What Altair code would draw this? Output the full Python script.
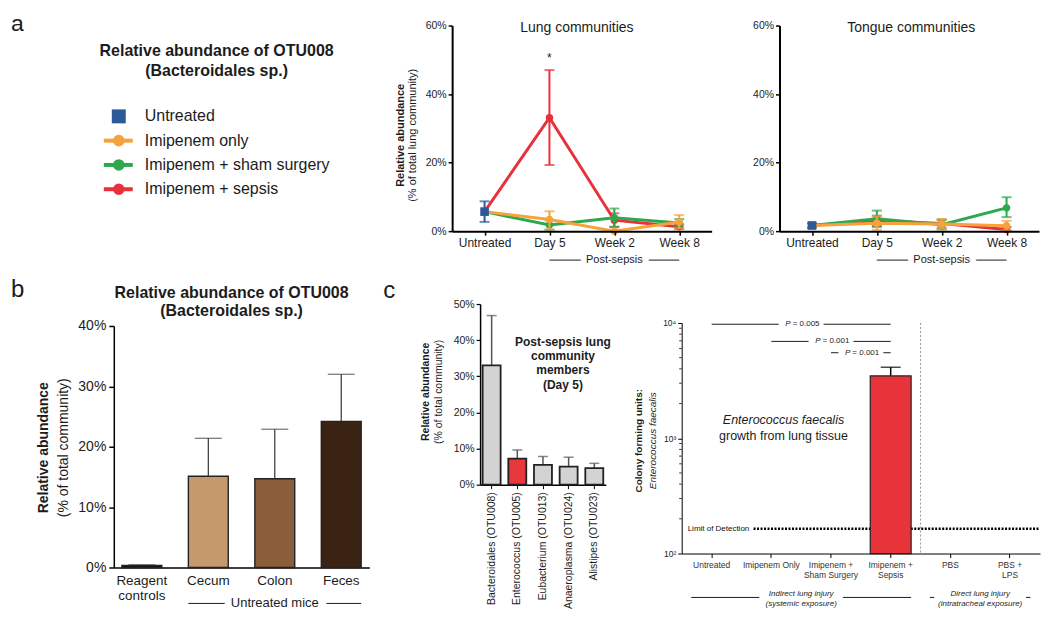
import altair as alt
import pandas as pd

FONT = "Liberation Sans"
INK = "#1c1c1c"

# ---------------- Panel a data ----------------
times = ["Untreated", "Day 5", "Week 2", "Week 8"]
post_times = ["Day 5", "Week 2", "Week 8"]
groups = ["Untreated", "Imipenem only", "Imipenem + sham surgery", "Imipenem + sepsis"]
group_colors = ["#2D5A96", "#F7A23B", "#2EA84F", "#E8313A"]

lung_untreated = [5.7, 2.7, 8.7]          # mean, lo, hi
lung_only_mean = [3.4, 0.0, 2.7]
lung_only_lo = [0.5, 0.0, 0.8]
lung_only_hi = [5.8, 0.4, 4.7]
lung_sham_mean = [1.8, 3.9, 2.4]
lung_sham_lo = [0.4, 1.3, 1.3]
lung_sham_hi = [3.2, 6.6, 3.5]
lung_sepsis_mean = [33.1, 3.2, 1.3]
lung_sepsis_lo = [19.3, 1.2, 0.6]
lung_sepsis_hi = [47.0, 5.2, 2.0]

tongue_untreated = [1.65, 1.0, 2.3]
tongue_only_mean = [2.3, 2.1, 1.6]
tongue_only_lo = [0.4, 0.8, 0.3]
tongue_only_hi = [4.3, 3.5, 3.0]
tongue_sham_mean = [3.6, 1.9, 6.8]
tongue_sham_lo = [1.2, 0.5, 4.1]
tongue_sham_hi = [6.0, 3.3, 9.9]
tongue_sepsis_mean = [3.0, 2.2, 0.5]
tongue_sepsis_lo = [1.5, 1.0, 0.1]
tongue_sepsis_hi = [4.5, 3.4, 1.2]

# ---------------- Panel b data ----------------
b_cats = ["Reagent controls", "Cecum", "Colon", "Feces"]
b_mean = [0.35, 15.1, 14.7, 24.2]
b_hi = [0.45, 21.4, 22.9, 32.0]
b_colors = ["#111111", "#C49A6C", "#8A5D3B", "#3B2314"]

# ---------------- Panel c data ----------------
c1_taxa = ["Bacteroidales (OTU008)", "Enterococcus (OTU005)", "Eubacterium (OTU013)",
           "Anaeroplasma (OTU024)", "Alistipes (OTU023)"]
c1_mean = [33.0, 7.2, 5.5, 5.0, 4.6]
c1_hi = [46.8, 9.6, 7.8, 7.6, 5.9]
c1_fill = ["#D3D3D3", "#E8373D", "#D3D3D3", "#D3D3D3", "#D3D3D3"]

c2_groups = ["Untreated", "Imipenem Only", "Imipenem + Sham Surgery", "Imipenem + Sepsis", "PBS", "PBS + LPS"]
c2_cfu = [None, None, None, 3470, None, None]
c2_hi = [None, None, None, 4130, None, None]
lod_value = 164
minor_ticks = [200, 300, 400, 500, 600, 700, 800, 900, 2000, 3000, 4000, 5000, 6000, 7000, 8000, 9000]
p_from = ["Untreated", "Imipenem Only", "Imipenem + Sham Surgery"]
p_to = "Imipenem + Sepsis"
p_y = [9750, 6920, 5520]
p_values = ["0.005", "0.001", "0.001"]


def dummy():
    return alt.Chart(pd.DataFrame({"k": [0]}))


def vtext(txt, x, y, size, weight="normal", style="normal", angle=0, align="center",
          baseline="middle", color=INK):
    return dummy().mark_text(text=txt, fontSize=size, fontWeight=weight, fontStyle=style,
                             angle=angle, align=align, baseline=baseline, color=color, fill=color
                             ).encode(x=alt.value(x), y=alt.value(y))


def hseg(x1, x2, y, width=1):
    return dummy().mark_rule(color=INK, strokeWidth=width).encode(
        x=alt.value(x1), x2=alt.value(x2), y=alt.value(y))


# ---------------- legend panel ----------------
def legend_panel():
    W, H = 271, 206
    df = pd.DataFrame({"group": groups, "fill": group_colors})
    ly = alt.Y("group:N", scale=alt.Scale(domain=groups, type="point", padding=0, range=[91, 164]), axis=None)
    col = alt.Color("fill:N", scale=None)
    base = alt.Chart(df)
    others = base.transform_filter(alt.datum.group != "Untreated")
    untr = base.transform_filter(alt.datum.group == "Untreated")
    layers = [
        dummy().mark_rect(opacity=0).encode(x=alt.value(-104), x2=alt.value(-103),
                                             y=alt.value(-14), y2=alt.value(-13)),
        vtext("a", -103, -13, 23, align="left", baseline="top"),
        vtext("Relative abundance of OTU008", 103, 26, 16, "bold"),
        vtext("(Bacteroidales sp.)", 103, 46, 16, "bold"),
        others.mark_rule(strokeWidth=4).encode(x=alt.value(-10), x2=alt.value(19), y=ly, color=col),
        others.mark_circle(size=135, opacity=1).encode(x=alt.value(5), y=ly, color=col),
        untr.mark_square(size=196, opacity=1).encode(x=alt.value(5), y=ly, color=col),
        base.mark_text(align="left", fontSize=16, color=INK).encode(x=alt.value(31), y=ly, text="group:N"),
    ]
    return alt.layer(*layers).properties(width=W, height=H)


# ---------------- line panels ----------------
def line_panel(title, title_x, untr, series, ytitle, star):
    W, H = 260, 206
    xs = alt.Scale(domain=times, type="point", padding=0.5)
    ys = alt.Scale(domain=[0, 60])
    xaxis = alt.Axis(title=None, labelFontSize=12, labelColor=INK, labelAngle=0, domainColor="black",
                     domainWidth=2, tickColor="black", tickWidth=1.5, tickSize=4, labelPadding=2,
                     grid=False, zindex=1)
    yaxis = alt.Axis(title=None, values=[0, 20, 40, 60], labelExpr="datum.value + '%'", labelFontSize=10.5,
                     labelColor=INK, domainColor="black", domainWidth=2, tickColor="black", tickWidth=1.5,
                     tickSize=4, labelPadding=2, grid=False)

    def X(f="time"):
        return alt.X(f"{f}:N", scale=xs, axis=xaxis)

    def Y(f):
        return alt.Y(f"{f}:Q", scale=ys, axis=yaxis)

    layers = []
    for g in ["Imipenem + sepsis", "Imipenem + sham surgery", "Imipenem only"]:
        m, lo, hi = series[g]
        col = group_colors[groups.index(g)]
        line_df = pd.DataFrame({"time": times, "mean": [untr[0]] + list(m), "ti": [0, 1, 2, 3]})
        pt_df = pd.DataFrame({"time": post_times, "mean": m, "lo": lo, "hi": hi})
        e = alt.Chart(pt_df)
        layers += [
            alt.Chart(line_df).mark_line(color=col, strokeWidth=3).encode(x=X(), y=Y("mean"), order="ti:Q"),
            e.mark_rule(color=col, strokeWidth=2).encode(x=X(), y=Y("lo"), y2="hi:Q"),
            e.mark_tick(color=col, orient="horizontal", size=10, thickness=2).encode(x=X(), y=Y("lo")),
            e.mark_tick(color=col, orient="horizontal", size=10, thickness=2).encode(x=X(), y=Y("hi")),
            e.mark_circle(color=col, size=55, opacity=1).encode(x=X(), y=Y("mean")),
        ]
    ucol = group_colors[0]
    u = alt.Chart(pd.DataFrame({"time": ["Untreated"], "mean": [untr[0]], "lo": [untr[1]], "hi": [untr[2]]}))
    layers += [
        u.mark_rule(color=ucol, strokeWidth=2).encode(x=X(), y=Y("lo"), y2="hi:Q"),
        u.mark_tick(color=ucol, orient="horizontal", size=10, thickness=2).encode(x=X(), y=Y("lo")),
        u.mark_tick(color=ucol, orient="horizontal", size=10, thickness=2).encode(x=X(), y=Y("hi")),
        u.mark_square(color=ucol, size=75, opacity=1).encode(x=X(), y=Y("mean")),
    ]
    br = alt.Chart(pd.DataFrame({"time": ["Day 5"], "time2": ["Week 8"]}))
    mid = alt.Chart(pd.DataFrame({"time": ["Week 2"]}))
    layers += [
        br.mark_rule(color=INK, strokeWidth=1).encode(x=X(), x2="time2:N", y=alt.value(235)),
        mid.mark_text(text="Post-sepsis", fontSize=11, color="white", stroke="white", strokeWidth=12
                      ).encode(x=X(), y=alt.value(235)),
        mid.mark_text(text="Post-sepsis", fontSize=11, color=INK).encode(x=X(), y=alt.value(235)),
        vtext(title, title_x, 2, 14),
    ]
    if star:
        layers.append(alt.Chart(pd.DataFrame({"time": ["Day 5"]})).mark_text(text="*", fontSize=12, color=INK)
                      .encode(x=X(), y=alt.value(33)))
    if ytitle:
        layers += [
            vtext("Relative abundance", -51, 110, 11, "bold", angle=270),
            vtext("(% of total lung community)", -39, 110, 11, angle=270),
        ]
    return alt.layer(*layers).properties(width=W, height=H)


# ---------------- panel b ----------------
def panel_b():
    W, H = 256, 264
    xs = alt.Scale(domain=b_cats, paddingInner=0.4, paddingOuter=0.122)
    ys = alt.Scale(domain=[0, 40], range=[H, 22])
    xaxis = alt.Axis(title=None,
                     labelExpr="datum.label == 'Reagent controls' ? ['Reagent', 'controls'] : datum.label",
                     labelFontSize=13.5, labelColor=INK, labelAngle=0, ticks=False, domainColor="black",
                     domainWidth=1.5, labelPadding=6, grid=False)
    yaxis = alt.Axis(title=None, values=[0, 10, 20, 30, 40], labelExpr="datum.value + '%'", labelFontSize=14,
                     labelColor=INK, domainColor="black", domainWidth=1.5, tickColor="black", tickWidth=1.5,
                     tickSize=5, labelPadding=3, grid=False)
    df = pd.DataFrame({"cat": b_cats, "mean": b_mean, "hi": b_hi, "fill": b_colors})
    base = alt.Chart(df)
    X = alt.X("cat:N", scale=xs, axis=xaxis)
    layers = [
        base.mark_bar(stroke="#222", strokeWidth=1.4).encode(
            x=X, y=alt.Y("mean:Q", scale=ys, axis=yaxis), color=alt.Color("fill:N", scale=None)),
        base.mark_rule(color="#333", strokeWidth=1.2).encode(x=X, y=alt.Y("mean:Q", scale=ys, axis=yaxis), y2="hi:Q"),
        base.mark_tick(color="#333", orient="horizontal", size=27, thickness=1.2).encode(
            x=X, y=alt.Y("hi:Q", scale=ys, axis=yaxis)),
    ]
    br = alt.Chart(pd.DataFrame({"cat": ["Cecum"], "cat2": ["Feces"]}))
    mid = alt.Chart(pd.DataFrame({"cat": ["Colon"]}))
    layers += [
        br.mark_rule(color=INK, strokeWidth=1).encode(
            x=alt.X("cat:N", scale=xs, axis=xaxis, bandPosition=0),
            x2=alt.X2("cat2:N", bandPosition=1), y=alt.value(300)),
        mid.mark_text(text="Untreated mice", fontSize=13, color="white", stroke="white", strokeWidth=14).encode(
            x=X, y=alt.value(300)),
        mid.mark_text(text="Untreated mice", fontSize=13, color=INK).encode(x=X, y=alt.value(300)),
        vtext("b", -103, -26, 24, align="left", baseline="top"),
        vtext("Relative abundance of OTU008", 118, -11, 16, "bold"),
        vtext("(Bacteroidales sp.)", 118, 7, 16, "bold"),
        vtext("Relative abundance", -70, 144, 14, "bold", angle=270),
        vtext("(% of total community)", -50, 144, 14, angle=270),
    ]
    return alt.layer(*layers).properties(width=W, height=H)


# ---------------- panel c1 ----------------
def panel_c1():
    W, H = 126, 181
    xs = alt.Scale(domain=c1_taxa, paddingInner=0.3, paddingOuter=0.1)
    ys = alt.Scale(domain=[0, 50])
    xaxis = alt.Axis(title=None, labelAngle=270, labelFontSize=10.5, labelColor=INK, domainColor="black",
                     domainWidth=1.5, tickColor="black", tickWidth=1, tickSize=4, labelPadding=3, grid=False)
    yaxis = alt.Axis(title=None, values=[0, 10, 20, 30, 40, 50], labelExpr="datum.value + '%'", labelFontSize=10.5,
                     labelColor=INK, domainColor="black", domainWidth=1.5, tickColor="black", tickWidth=1.2,
                     tickSize=4, labelPadding=2, grid=False)
    df = pd.DataFrame({"taxon": c1_taxa, "mean": c1_mean, "hi": c1_hi, "fill": c1_fill})
    base = alt.Chart(df)
    X = alt.X("taxon:N", scale=xs, axis=xaxis)
    layers = [
        base.mark_rule(color="#555", strokeWidth=1.5).encode(x=X, y=alt.Y("mean:Q", scale=ys, axis=yaxis), y2="hi:Q"),
        base.mark_tick(color="#555", orient="horizontal", size=10, thickness=1.5).encode(
            x=X, y=alt.Y("hi:Q", scale=ys, axis=yaxis)),
        base.mark_bar(stroke="#222", strokeWidth=1.8).encode(
            x=X, y=alt.Y("mean:Q", scale=ys, axis=yaxis), color=alt.Color("fill:N", scale=None)),
        vtext("c", -97, -25, 24, align="left", baseline="top"),
        vtext("Post-sepsis lung", 83, 38, 12, "bold"),
        vtext("community", 83, 52, 12, "bold"),
        vtext("members", 83, 66, 12, "bold"),
        vtext("(Day 5)", 83, 81, 12, "bold"),
        vtext("Relative abundance", -54, 88, 10.5, "bold", angle=270),
        vtext("(% of total community)", -41, 88, 10.5, angle=270),
    ]
    return alt.layer(*layers).properties(width=W, height=H)


# ---------------- panel c2 ----------------
def panel_c2():
    W, H = 359, 250
    pi, po = 0.315, 0.16
    n = len(c2_groups)
    step = W / (n - pi + 2 * po)
    bw = step * (1 - pi)
    xs = alt.Scale(domain=c2_groups, paddingInner=pi, paddingOuter=po)
    ys = alt.Scale(type="log", domain=[100, 10000], range=[H, 19])
    xaxis = alt.Axis(title=None, labelExpr="split(replace(datum.label, ' + ', ' +|'), '|')", labelFontSize=8.5,
                     labelColor="#333", labelAngle=0, domainColor="black", domainWidth=1, tickColor="black",
                     tickWidth=1, tickSize=4, labelPadding=3, grid=False)
    yaxis = alt.Axis(title=None, values=[100, 1000, 10000],
                     labelExpr="datum.value == 100 ? '10²' : datum.value == 1000 ? '10³' : '10⁴'",
                     labelFontSize=8.5, labelColor=INK, domainColor="black", domainWidth=1, tickColor="black",
                     tickWidth=1, tickSize=4, labelPadding=2, grid=False)

    def X(f="grp"):
        return alt.X(f"{f}:N", scale=xs, axis=xaxis)

    def Y(f):
        return alt.Y(f"{f}:Q", scale=ys, axis=yaxis)

    def center(g):
        return (po + c2_groups.index(g)) * step + bw / 2

    df = pd.DataFrame({"grp": c2_groups, "cfu": c2_cfu, "hi": c2_hi, "base": [100] * n})
    df = df.dropna()
    base = alt.Chart(df)
    lod = alt.Chart(pd.DataFrame({"lod": [lod_value], "label": ["Limit of Detection"]}))
    minor = alt.Chart(pd.DataFrame({"v": minor_ticks}))
    layers = [
        dummy().mark_rule(color="#999", strokeWidth=1, strokeDash=[2, 2]).encode(
            x=alt.value(W * 4 / 6), y=alt.value(19), y2=alt.value(H)),
        lod.mark_rule(color="black", strokeWidth=2.5, strokeDash=[2, 1.5]).encode(
            x=alt.value(72), x2=alt.value(W), y=Y("lod")),
        lod.mark_text(fontSize=8, align="left", baseline="middle").encode(
            x=alt.value(6), y=Y("lod"), text="label:N", color=alt.value("#111111")),
        base.mark_rule(color="black", strokeWidth=1.5).encode(x=X(), y=Y("cfu"), y2="hi:Q"),
        base.mark_tick(color="black", orient="horizontal", size=20, thickness=1.5).encode(x=X(), y=Y("hi")),
        base.mark_bar(color="#E8333B", stroke="#222", strokeWidth=1.2).encode(x=X(), y=Y("cfu"), y2="base:Q"),
        minor.mark_rule(color="black", strokeWidth=0.8).encode(x=alt.value(-2.5), x2=alt.value(0), y=Y("v")),
    ]
    half = 22.5
    for frm, yv, pv in zip(p_from, p_y, p_values):
        xa, xb = center(frm), center(p_to)
        xm = (xa + xb) / 2
        t = alt.Chart(pd.DataFrame({"y": [yv]}))
        layers += [
            t.mark_rule(color=INK, strokeWidth=1).encode(x=alt.value(xa), x2=alt.value(xm - half), y=Y("y")),
            t.mark_rule(color=INK, strokeWidth=1).encode(x=alt.value(xm + half), x2=alt.value(xb), y=Y("y")),
            t.mark_text(text="P", fontSize=8, fontStyle="italic", align="right", color=INK).encode(
                x=alt.value(xm - 10.5), y=Y("y")),
            t.mark_text(text="= " + pv, fontSize=8, align="left", color=INK).encode(
                x=alt.value(xm - 8.5), y=Y("y")),
        ]
    layers += [
        vtext("Enterococcus faecalis", 102, 116, 12.5, style="italic"),
        vtext("growth from lung tissue", 102, 132, 12.5),
        vtext("Colony forming units:", -43, 137, 10, "bold", angle=270),
        vtext("Enterococcus faecalis", -29, 137, 10, style="italic", angle=270),
    ]
    # group brackets below the category axis (segments left/right of the caption)
    spans = [("Untreated", "Imipenem + Sepsis", "Indirect lung injury", "(systemic exposure)", 42),
             ("PBS", "PBS + LPS", "Direct lung injury", "(intratracheal exposure)", 46)]
    for s, e, l1, l2, hw in spans:
        x0 = (po + c2_groups.index(s)) * step
        x1 = (po + c2_groups.index(e)) * step + bw
        xm = (x0 + x1) / 2
        layers += [
            hseg(x0, xm - hw, 294),
            hseg(xm + hw, x1, 294),
            vtext(l1, xm, 291, 8, style="italic"),
            vtext(l2, xm, 301, 8, style="italic"),
        ]
    return alt.layer(*layers).properties(width=W, height=H)


lung_series = {
    "Imipenem only": (lung_only_mean, lung_only_lo, lung_only_hi),
    "Imipenem + sham surgery": (lung_sham_mean, lung_sham_lo, lung_sham_hi),
    "Imipenem + sepsis": (lung_sepsis_mean, lung_sepsis_lo, lung_sepsis_hi),
}
tongue_series = {
    "Imipenem only": (tongue_only_mean, tongue_only_lo, tongue_only_hi),
    "Imipenem + sham surgery": (tongue_sham_mean, tongue_sham_lo, tongue_sham_hi),
    "Imipenem + sepsis": (tongue_sepsis_mean, tongue_sepsis_lo, tongue_sepsis_hi),
}

TOP_H = 206
top = alt.hconcat(
    legend_panel(),
    line_panel("Lung communities", 125, lung_untreated, lung_series, True, True),
    line_panel("Tongue communities", 132, tongue_untreated, tongue_series, False, False),
    spacing=68, bounds="flush")
bottom_right = alt.hconcat(panel_c1(), panel_c2(), spacing=76, bounds="flush")
bottom = alt.hconcat(panel_b(), bottom_right, spacing=111, bounds="flush")

# nested concat groups report no height under "flush", so the row gap includes the top row height
chart = alt.vconcat(top, bottom, spacing=TOP_H + 73, bounds="flush").properties(
    padding={"left": 2, "top": 3, "right": 0, "bottom": 0}).configure(
    font=FONT).configure_view(strokeWidth=0)

chart.save("out.html", embed_options={"renderer": "svg", "actions": False})
